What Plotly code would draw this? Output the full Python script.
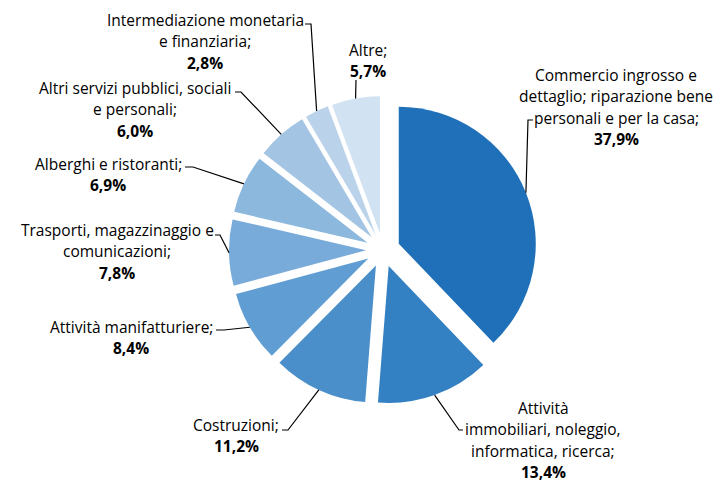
import math
import plotly.graph_objects as go

# ---- data ----
categories = [
    "Commercio ingrosso e dettaglio; riparazione bene personali e per la casa",
    "Attività immobiliari, noleggio, informatica, ricerca",
    "Costruzioni",
    "Attività manifatturiere",
    "Trasporti, magazzinaggio e comunicazioni",
    "Alberghi e ristoranti",
    "Altri servizi pubblici, sociali e personali",
    "Intermediazione monetaria e finanziaria",
    "Altre",
]
values = [37.9, 13.4, 11.2, 8.4, 7.8, 6.9, 6.0, 2.8, 5.7]
value_labels = ["37,9%", "13,4%", "11,2%", "8,4%", "7,8%", "6,9%", "6,0%", "2,8%", "5,7%"]
label_lines = [
    ["Commercio ingrosso e", "dettaglio; riparazione bene", "personali e per la casa;"],
    ["Attività", "immobiliari, noleggio,", "informatica, ricerca;"],
    ["Costruzioni;"],
    ["Attività manifatturiere;"],
    ["Trasporti, magazzinaggio e", "comunicazioni;"],
    ["Alberghi e ristoranti;"],
    ["Altri servizi pubblici, sociali", "e personali;"],
    ["Intermediazione monetaria", "e finanziaria;"],
    ["Altre;"],
]
colors = ["#1F70B8", "#3380C2", "#4A8FC9", "#5F9DD2", "#78ABDA",
          "#8DB8DD", "#A3C5E3", "#BAD3EB", "#D1E2F2"]

# ---- layout (pixels) ----
W, H = 717, 483
CX, CY, R = 383.0, 250.0, 137.0
PULL = 0.124
LINE_H = 21.3
FONT = "Open Sans"
FSIZE = 15.5

# label block: (center x, first line y)
label_pos = [(616, 75), (543, 408), (236, 425), (131, 327), (117, 230),
             (108, 164), (135, 88), (205, 20), (368, 50)]
# leader start (text side) and elbow
leader_pts = [
    [(533, 120), (528, 120)],
    [(463, 430), (459, 430)],
    [(282, 430), (288, 430)],
    [(216, 330), (224, 330)],
    [(215, 235), (220, 235)],
    [(185, 167), (193, 167)],
    [(235, 92), (241, 92)],
    [(305, 24), (311, 24)],
    [(356, 80)],
]

half = R * (1 + PULL)
domain_x = [(CX - half) / W, (CX + half) / W]
domain_y = [(H - CY - half) / H, (H - CY + half) / H]

fig = go.Figure(go.Pie(
    labels=categories, values=values, sort=False, direction="clockwise",
    rotation=0, pull=[PULL] * len(values), textinfo="none",
    marker=dict(colors=colors, line=dict(width=0)),
    domain=dict(x=domain_x, y=domain_y), showlegend=False,
))

def px(x):
    return x / W

def py(y):
    return 1 - y / H

total = sum(values)
cum = 0.0
annotations = []
shapes = []
for i, v in enumerate(values):
    a0 = cum / total * 2 * math.pi
    cum += v
    a1 = cum / total * 2 * math.pi
    m = (a0 + a1) / 2
    d = PULL * R
    ex = CX + (d + R) * math.sin(m)
    ey = CY - (d + R) * math.cos(m)
    pts = leader_pts[i] + [(ex, ey)]
    path = "M " + " L ".join(f"{px(x):.5f},{py(y):.5f}" for x, y in pts)
    shapes.append(dict(type="path", xref="paper", yref="paper", path=path,
                       line=dict(color="black", width=1.2)))
    lx, ly = label_pos[i]
    lines = label_lines[i] + [f"<b>{value_labels[i]}</b>"]
    for j, t in enumerate(lines):
        annotations.append(dict(
            x=px(lx), y=py(ly + j * LINE_H), xref="paper", yref="paper",
            text=t, showarrow=False, xanchor="center", yanchor="middle",
            font=dict(family=FONT, size=FSIZE, color="black"),
        ))

fig.update_layout(
    width=W, height=H, margin=dict(l=0, r=0, t=0, b=0),
    paper_bgcolor="white", plot_bgcolor="white",
    annotations=annotations, shapes=shapes,
)

fig.write_html("out.html", config={"displayModeBar": False},
               post_script="document.body.style.margin='0';")
